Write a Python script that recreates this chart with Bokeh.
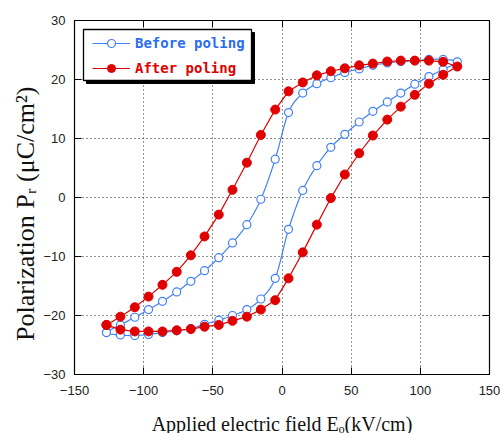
import numpy as np
from bokeh.plotting import figure
from bokeh.models import Range1d, LinearAxis, FixedTicker, Legend, LegendItem, BoxAnnotation, Grid
from bokeh.embed import file_html
from bokeh.resources import INLINE

# ---------------- data ----------------
E_kv = [-126.9, -116.8, -106.4, -96.5, -86.4, -76.1, -65.9, -56.0, -45.7, -35.8, -25.4,
        -15.3, -4.9, 4.7, 15.0, 25.2, 35.3, 45.4, 55.8, 65.7, 76.1, 85.9, 96.0, 106.2,
        116.5, 126.7]
# rising-field branch (lower) and falling-field branch (upper), listed by ascending E
after_lower = [-21.6, -22.4, -22.7, -22.7, -22.7, -22.5, -22.3, -21.9, -21.6, -20.9, -20.2,
               -19.0, -17.4, -13.7, -9.3, -4.6, -0.1, 3.9, 7.5, 10.5, 13.2, 15.4, 17.4,
               19.3, 20.8, 22.2]
after_upper = [-21.6, -20.2, -18.6, -16.8, -14.8, -12.6, -9.8, -6.6, -2.9, 1.3, 5.9,
               10.6, 14.9, 18.0, 19.5, 20.7, 21.4, 21.9, 22.4, 22.7, 23.05, 23.2, 23.2,
               23.2, 23.0, 22.2]
before_lower = [-22.9, -23.3, -23.4, -23.2, -22.9, -22.6, -22.2, -21.5, -20.8, -20.0, -19.0,
                -17.2, -13.7, -5.4, 1.2, 5.4, 8.5, 10.7, 12.8, 14.6, 16.2, 17.7, 19.2,
                20.5, 21.7, 23.0]
before_upper = [-22.9, -21.6, -20.3, -19.0, -17.6, -16.0, -14.2, -12.4, -10.2, -7.7, -4.6,
                -0.3, 6.5, 14.4, 17.7, 19.3, 20.3, 21.2, 21.8, 22.4, 22.8, 23.05, 23.2,
                23.4, 23.4, 23.0]

x_ticks = [-150, -100, -50, 0, 50, 100, 150]
y_ticks = [-30, -20, -10, 0, 10, 20, 30]

x_title = "Applied electric field E\u2092(kV/cm)"
y_title = "Polarization P\u1d63 (\u03bcC/cm\u00b2)" + "\u00a0" * 5

BLUE = "#3f80f8"
BLUE_TXT = "#2a6cf2"
RED = "#e00000"

# ---------------- figure ----------------
p = figure(frame_width=415, frame_height=354, output_backend="svg", toolbar_location=None,
           x_range=Range1d(-150, 150), y_range=Range1d(-30, 30),
           min_border_left=74, min_border_right=11, min_border_top=20, min_border_bottom=59,
           x_axis_type=None, y_axis_type=None, background_fill_color="white",
           border_fill_color="white")
p.outline_line_color = "black"
p.outline_line_width = 1.2

def minus(v):
    return str(v).replace("-", "\u2212")

xb = LinearAxis(ticker=FixedTicker(ticks=x_ticks),
                major_label_overrides={v: minus(v) for v in x_ticks},
                axis_label=x_title)
yl = LinearAxis(ticker=FixedTicker(ticks=y_ticks),
                major_label_overrides={v: minus(v) for v in y_ticks},
                axis_label=y_title)
xt = LinearAxis(ticker=FixedTicker(ticks=x_ticks),
                major_label_overrides={v: "" for v in x_ticks}, major_label_standoff=0)
yr = LinearAxis(ticker=FixedTicker(ticks=y_ticks),
                major_label_overrides={v: "" for v in y_ticks}, major_label_standoff=0)
p.add_layout(xb, "below")
p.add_layout(yl, "left")
p.add_layout(xt, "above")
p.add_layout(yr, "right")
for ax in (xb, yl, xt, yr):
    ax.major_tick_in = 7
    ax.major_tick_out = 0
    ax.minor_tick_in = 0
    ax.minor_tick_out = 0
    ax.axis_line_color = "black"
    ax.major_tick_line_color = "black"
    ax.major_label_text_font = "Liberation Sans"
    ax.major_label_text_color = "#222222"
    ax.major_label_text_font_size = "13px"
xb.major_label_standoff = 11
yl.major_label_standoff = 9
for ax, size, so in ((xb, "20px", 15), (yl, "26px", 0)):
    ax.axis_label_text_font = "Liberation Serif"
    ax.axis_label_text_font_style = "normal"
    ax.axis_label_text_font_size = size
    ax.axis_label_text_color = "#111111"
    ax.axis_label_standoff = so
xb.axis_label_text_line_height = 0.8

p.grid.visible = False
gx = Grid(dimension=0, ticker=FixedTicker(ticks=x_ticks[1:-1]), grid_line_color="#222222",
          grid_line_dash="1 3", grid_line_width=1)
gy = Grid(dimension=1, ticker=FixedTicker(ticks=y_ticks[1:-1]), grid_line_color="#222222",
          grid_line_dash="1 3", grid_line_width=1)
p.add_layout(gx)
p.add_layout(gy)

# ---------------- curves ----------------
def loop(lower, upper):
    xs = list(E_kv) + list(E_kv[::-1][1:])
    ys = list(lower) + list(upper[::-1][1:])
    return np.array(xs, float), np.array(ys, float)

def catmull(xs, ys, n=10):
    pts = np.column_stack([xs, ys])
    m = len(pts)
    out = []
    for i in range(m - 1):
        p0 = pts[i - 1] if i > 0 else pts[m - 2]
        p1 = pts[i]
        p2 = pts[i + 1]
        p3 = pts[i + 2] if i + 2 < m else pts[1]
        for t in np.linspace(0, 1, n, endpoint=False):
            t2, t3 = t * t, t * t * t
            pt = 0.5 * ((2 * p1) + (-p0 + p2) * t + (2 * p0 - 5 * p1 + 4 * p2 - p3) * t2
                        + (-p0 + 3 * p1 - 3 * p2 + p3) * t3)
            out.append(pt)
    out.append(pts[-1])
    out = np.array(out)
    return out[:, 0], out[:, 1]

# legend frame (pixel layout -> data units), drawn behind the legend entries
def dx(px):
    return -150 + (px - 74) * 300 / 415

def dy(py):
    return 30 - (py - 20) * 60 / 354

shadow = BoxAnnotation(left=dx(86), right=dx(254), top=dy(32), bottom=dy(83),
                       fill_color="black", fill_alpha=1, line_color="black", line_alpha=1)
box = BoxAnnotation(left=dx(83), right=dx(251), top=dy(29), bottom=dy(80),
                    fill_color="white", fill_alpha=1, line_color="black", line_width=1.3,
                    line_alpha=1)
p.add_layout(shadow)
p.add_layout(box)

bx, by = loop(before_lower, before_upper)
sx, sy = catmull(bx, by)
b_line = p.line(sx, sy, line_color=BLUE, line_width=1.2)
b_mk = p.scatter(bx, by, marker="circle", size=8, line_color=BLUE, line_width=1.2,
                 fill_color="white")

rx, ry = loop(after_lower, after_upper)
r_line = p.line(rx, ry, line_color=RED, line_width=1.2)
r_mk = p.scatter(rx, ry, marker="circle", size=9, line_color=RED, fill_color=RED)

def make_legend(label, rends, color, bottom):
    lg = Legend(items=[LegendItem(label=label, renderers=rends)], location=(18, bottom),
                padding=0, margin=0, spacing=0, glyph_width=38, glyph_height=20,
                label_height=20, label_standoff=5, border_line_alpha=0,
                background_fill_alpha=0, label_text_font="DejaVu Sans Mono",
                label_text_font_style="bold", label_text_font_size="14px",
                label_text_color=color)
    p.add_layout(lg, "center")

make_legend("Before poling", [b_line, b_mk], BLUE_TXT, 374 - 53)
make_legend("After poling", [r_line, r_mk], RED, 374 - 78)

open("out.html", "w").write(file_html(p, INLINE))
